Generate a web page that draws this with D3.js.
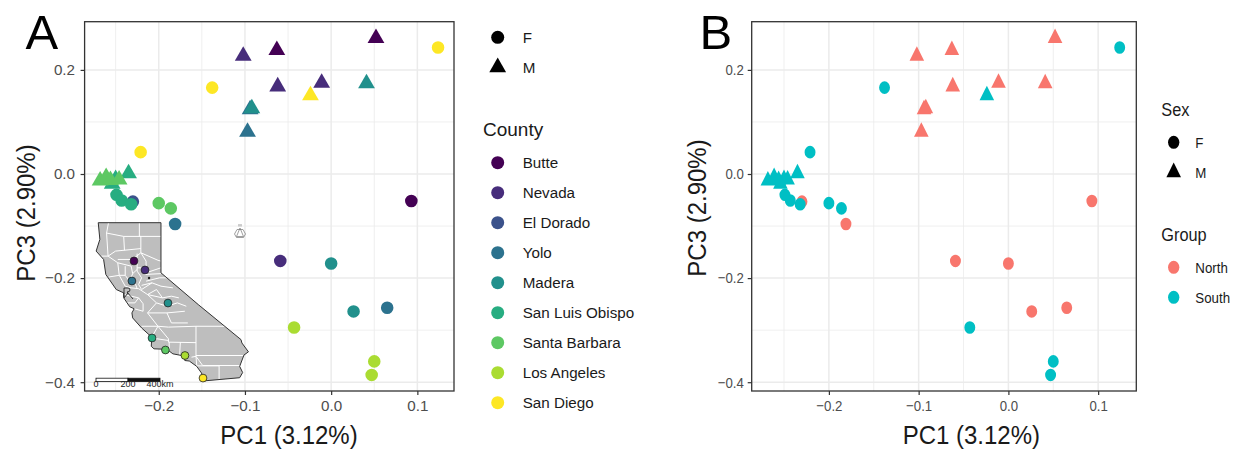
<!DOCTYPE html>
<html>
<head>
<meta charset="utf-8">
<script src="https://cdn.jsdelivr.net/npm/d3@7"></script>
<style>
    html, body { margin:0; padding:0; background:#fff; }
    svg { display:block; }
    text { font-family:"Liberation Sans", Arial, sans-serif; }
</style>
</head>
<body>
<svg id="chart" width="1239" height="449"></svg>
<script>
var counties = ['Butte', 'Nevada', 'El Dorado', 'Yolo', 'Madera', 'San Luis Obispo', 'Santa Barbara', 'Los Angeles', 'San Diego']
var countyColors = ['#440154', '#472d7b', '#3b528b', '#2c728e', '#21908c', '#27ad81', '#5dc863', '#aadc32', '#fde725']
var groups = ['North', 'South']
var groupColors = ['#f8766d', '#00bfc4']
var countyGroup = [0, 0, 0, 0, 0, 1, 1, 1, 1]
var sexes = ['F', 'M']

// one entry per sample, sorted by county
var sampleCounty = [0, 0, 0, 1, 1, 1, 1, 2, 3, 3, 3, 3, 4, 4, 4, 4, 5, 5, 5, 5, 5, 5, 6, 6, 6, 6, 6, 6, 7, 7, 7, 8, 8, 8, 8]
var sampleSex    = ['F', 'M', 'M', 'F', 'M', 'M', 'M', 'F', 'F', 'F', 'M', 'M', 'F', 'F', 'M', 'M', 'F', 'F', 'F', 'M', 'M', 'M', 'F', 'F', 'M', 'M', 'M', 'M', 'F', 'F', 'F', 'F', 'F', 'F', 'M']
var pc1 = [0.093, -0.063, 0.052, -0.059, -0.102, -0.062, -0.011, -0.230, 0.065, -0.181, -0.097, -0.094, 0.000, 0.026, 0.041, -0.092, -0.249, -0.243, -0.232, -0.250, -0.254, -0.235, -0.200, -0.186, -0.268, -0.261, -0.256, -0.246, -0.043, 0.050, 0.047, 0.124, -0.138, -0.221, -0.024]
var pc3 = [-0.052, 0.238, 0.261, -0.167, 0.227, 0.168, 0.175, -0.053, -0.257, -0.096, 0.081, 0.124, -0.172, -0.264, 0.174, 0.126, -0.040, -0.051, -0.058, -0.010, -0.019, 0.001, -0.056, -0.066, -0.013, -0.006, -0.012, -0.011, -0.295, -0.360, -0.386, 0.243, 0.166, 0.042, 0.151]

var xTicks = [-0.2, -0.1, 0, 0.1]
var xMinor = [-0.25, -0.15, -0.05, 0.05]
var yTicks = [0.2, 0, -0.2, -0.4]
var yMinor = [0.1, -0.1, -0.3]

// inset map, lon/lat
var stateOutline = [[-124.21, 42], [-120, 42], [-120, 39], [-117.5, 37.1], [-114.63, 35], [-114.57, 34.8], [-114.13, 34.27], [-114.43, 34.08], [-114.72, 33.4], [-114.52, 33.03], [-114.72, 32.72], [-117.12, 32.53], [-117.28, 33], [-117.6, 33.4], [-118.1, 33.72], [-118.4, 33.75], [-118.5, 34.03], [-119.2, 34.15], [-119.6, 34.42], [-120.47, 34.45], [-120.65, 34.6], [-120.62, 35.15], [-121.3, 35.7], [-121.9, 36.3], [-121.95, 36.6], [-121.8, 36.85], [-122.1, 36.97], [-122.5, 37.5], [-122.5, 37.8], [-123, 38], [-123.7, 38.9], [-123.85, 39.8], [-124.35, 40.3], [-124.1, 41], [-124.21, 42]]
var countyLines = [
    [[-121.45, 42], [-121.45, 41.18], [-120, 41.18]],
    [[-123.52, 42], [-123.65, 41.38], [-122.5, 41.18], [-121.35, 41.18]],
    [[-123.65, 41.38], [-123.55, 40]],
    [[-124, 40], [-123.55, 40], [-123.05, 40.3], [-121.35, 40.45]],
    [[-122.5, 41.18], [-122.45, 40.35]],
    [[-121.35, 41.18], [-121.35, 40.2], [-120.2, 39.75], [-120, 39.7]],
    [[-123.55, 40], [-122.9, 39.6], [-122.8, 38.85], [-123.5, 38.75]],
    [[-122.9, 39.8], [-121.9, 39.8], [-121.35, 40.2]],
    [[-122.9, 39.6], [-122, 39.4], [-121.9, 38.95], [-121.6, 39.2]],
    [[-122.4, 39.4], [-122.4, 38.85], [-122.8, 38.85]],
    [[-121.9, 38.95], [-122.1, 38.5], [-122.4, 38.85]],
    [[-122.1, 38.5], [-121.7, 38.3], [-121.6, 38.05]],
    [[-121.6, 40.15], [-121.6, 39.1], [-121.3, 38.7], [-121.5, 38.3], [-121.3, 38]],
    [[-121.35, 40.2], [-121, 39.7], [-121, 39], [-120, 39.3]],
    [[-121.6, 39.3], [-121, 39.3]],
    [[-121.1, 38.9], [-120, 38.95]],
    [[-121, 38.5], [-120.1, 38.7], [-119.6, 38.7]],
    [[-121.3, 38.25], [-120.6, 38.4], [-120, 38.2], [-119.2, 38.1]],
    [[-120.9, 37.7], [-120.3, 38], [-119.9, 37.5]],
    [[-121.3, 38], [-120.6, 38.4]],
    [[-122.8, 38.85], [-122.4, 38.2], [-122, 38.1], [-121.5, 38.05]],
    [[-122.5, 37.7], [-121.5, 37.5], [-121.2, 37.15], [-121.2, 36.7], [-122, 36.9]],
    [[-122.4, 37.2], [-121.75, 37.2], [-121.5, 37.5]],
    [[-121.5, 38.05], [-120.9, 37.7], [-120.3, 37.2], [-120.9, 36.6], [-120.2, 35.8], [-119.5, 35.75], [-117.65, 35.8], [-115.65, 35.8]],
    [[-120.9, 37.7], [-119.9, 37.5], [-119.3, 37.6], [-118.8, 37.5]],
    [[-120.3, 37.2], [-119.6, 37], [-118.9, 37.2], [-118.3, 37]],
    [[-119.6, 36.6], [-118.4, 36.7]],
    [[-119.3, 36], [-118.2, 36]],
    [[-120.9, 36.6], [-119.6, 36.6], [-119.3, 36]],
    [[-121.3, 35.8], [-120.2, 35.8]],
    [[-120.65, 35.1], [-120.2, 35.8]],
    [[-120.2, 35.8], [-119.5, 35.05], [-119.5, 34.85], [-117.65, 34.82]],
    [[-117.65, 35.8], [-117.65, 34], [-117.2, 33.45], [-114.6, 33.45]],
    [[-118.7, 34.85], [-118.75, 34.05]],
    [[-119.45, 34.85], [-119.45, 34.3]],
    [[-120.65, 35.1], [-119.5, 34.95]],
    [[-117.65, 34.05], [-114.45, 34.05]],
    [[-117.6, 33.43], [-116.1, 33.43], [-116.1, 32.63]],
    [[-117.95, 33.95], [-117.65, 34], [-117.6, 33.43]]
]
var siteLon = [-121.81, -121.07, -121.95, -119.53, -120.6, -119.7, -118.39, -117.18]
var siteLat = [39.71, 39.17, 38.51, 37.19, 35.1, 34.38, 34.05, 32.7]
var siteCounty = [0, 1, 3, 4, 5, 6, 7, 8]
var scaleKm = [0, 200, 400]

var svg = d3.select('#chart')
var tickFormat = d3.format('.1f')
var textColor = '#1a1a1a'

var pointShape = function(sex, size) {
    return d3.symbol().type(sex == 'F' ? d3.symbolCircle : d3.symbolTriangle).size(size)()
}

var label = function(x, y, txt, size, squeeze, fill) {
    return svg.append('text')
    .attr('transform', 'translate(' + x + ',' + y + ') scale(' + squeeze + ',1)')
    .attr('font-size', size)
    .attr('fill', fill || textColor)
    .text(txt)
}

var drawPanel = function(box, squeeze, color) {
    var x = d3.scaleLinear().domain([-0.286, 0.1425]).range([box.left, box.right])
    var y = d3.scaleLinear().domain([-0.4169, 0.2926]).range([box.bottom, box.top])
    var g = svg.append('g')
    var grid = g.append('g').attr('stroke', '#ebebeb').attr('fill', 'none')

    xMinor.forEach(function(v) {
        grid.append('line').attr('x1', x(v)).attr('x2', x(v)).attr('y1', box.top).attr('y2', box.bottom).attr('stroke-width', 0.8)
    })
    yMinor.forEach(function(v) {
        grid.append('line').attr('y1', y(v)).attr('y2', y(v)).attr('x1', box.left).attr('x2', box.right).attr('stroke-width', 0.8)
    })
    xTicks.forEach(function(v) {
        grid.append('line').attr('x1', x(v)).attr('x2', x(v)).attr('y1', box.top).attr('y2', box.bottom).attr('stroke-width', 1.5)
    })
    yTicks.forEach(function(v) {
        grid.append('line').attr('y1', y(v)).attr('y2', y(v)).attr('x1', box.left).attr('x2', box.right).attr('stroke-width', 1.5)
    })

    g.selectAll('path.point')
    .data(d3.range(pc1.length))
    .enter()
    .append('path')
    .attr('class', 'point')
    .attr('d', function(i) { return pointShape(sampleSex[i], sampleSex[i] == 'F' ? 124 : 122) })
    .attr('transform', function(i) {
        return 'translate(' + x(pc1[i]) + ',' + y(pc3[i]) + ') scale(' + squeeze + ',1)'
    })
    .attr('fill', function(i) { return color(sampleCounty[i]) })

    var xAxis = g.append('g')
    .attr('transform', 'translate(0,' + box.bottom + ')')
    .call(d3.axisBottom(x).tickValues(xTicks).tickFormat(tickFormat).tickSize(4).tickSizeOuter(0).tickPadding(5))
    var yAxis = g.append('g')
    .attr('transform', 'translate(' + box.left + ',0)')
    .call(d3.axisLeft(y).tickValues(yTicks).tickFormat(tickFormat).tickSize(4).tickSizeOuter(0).tickPadding(5.6 / (squeeze < 1 ? 1.12 : 1)))

    var styleAxis = function(axis) {
        axis.select('.domain').remove()
        axis.selectAll('line').attr('stroke', '#333').attr('stroke-width', 1.2)
        axis.selectAll('text')
        .attr('font-family', '"Liberation Sans", Arial, sans-serif')
        .attr('font-size', 15.2)
        .attr('fill', '#4d4d4d')
        .attr('transform', 'scale(' + squeeze + ',1)')
    }
    xAxis.call(styleAxis)
    yAxis.call(styleAxis)

    g.append('rect')
    .attr('x', box.left).attr('y', box.top)
    .attr('width', box.right - box.left).attr('height', box.bottom - box.top)
    .attr('fill', 'none').attr('stroke', '#333').attr('stroke-width', 1.3)
}

var drawMap = function() {
    var lonScale = d3.scaleLinear().domain([-124.4, -114.1]).range([95.4, 248.9])
    var latScale = d3.scaleLinear().domain([42, 32.5]).range([222.7, 381.4])
    var line = d3.line().x(function(d) { return lonScale(d[0]) }).y(function(d) { return latScale(d[1]) })
    var g = svg.append('g')

    g.append('path').attr('d', line(stateOutline)).attr('fill', '#bebebe').attr('stroke', 'none')
    g.selectAll('path.county')
    .data(countyLines)
    .enter()
    .append('path')
    .attr('class', 'county')
    .attr('d', line)
    .attr('fill', 'none')
    .attr('stroke', '#fff')
    .attr('stroke-width', 1)
    g.append('path').attr('d', line(stateOutline)).attr('fill', 'none').attr('stroke', '#333').attr('stroke-width', 1)

    g.append('circle').attr('cx', lonScale(-120.8)).attr('cy', latScale(38.69)).attr('r', 1.2).attr('fill', '#222')
    g.selectAll('circle.site')
    .data(siteCounty)
    .enter()
    .append('circle')
    .attr('class', 'site')
    .attr('cx', function(d, i) { return lonScale(siteLon[i]) })
    .attr('cy', function(d, i) { return latScale(siteLat[i]) })
    .attr('r', 3.9)
    .attr('fill', function(d) { return countyColors[d] })
    .attr('stroke', '#222')
    .attr('stroke-width', 0.8)

    // north arrows
    var grey = g.append('g').attr('transform', 'translate(240,233)').attr('fill', 'none').attr('stroke', '#777').attr('stroke-width', 0.7)
    grey.append('path').attr('d', 'M0,-5L-3.5,3.5L3.5,3.5ZM-5.5,1L-3,-3.5L3,-3.5L5.5,1L3.5,4.5L-3.5,4.5ZM-1,-9V-6.5M1,-9V-6.5')
    var black = g.append('g').attr('transform', 'translate(127,292)').attr('fill', 'none').attr('stroke', '#111').attr('stroke-width', 0.8)
    black.append('path').attr('d', 'M-3,5V-4H1Q3,-4 3,-2Q3,0 0,0L6,7M-3,6L1,1')

    var km = d3.scaleLinear().domain([0, 400]).range([96, 160])
    g.append('rect').attr('x', km(0)).attr('y', 378.2).attr('width', km(200) - km(0)).attr('height', 3.4).attr('fill', '#fff').attr('stroke', '#111').attr('stroke-width', 0.8)
    g.append('rect').attr('x', km(200)).attr('y', 378.2).attr('width', km(400) - km(200)).attr('height', 3.4).attr('fill', '#111').attr('stroke', '#111').attr('stroke-width', 0.8)
    g.selectAll('text.km')
    .data(scaleKm)
    .enter()
    .append('text')
    .attr('class', 'km')
    .attr('x', function(d) { return km(d) })
    .attr('y', 387.4)
    .attr('text-anchor', 'middle')
    .attr('font-size', 9)
    .attr('fill', '#222')
    .text(function(d) { return d == 400 ? '400km' : d })
}

drawPanel({ left:84.6, right:454, top:21.7, bottom:391 }, 1, function(c) { return countyColors[c] })
drawPanel({ left:751.7, right:1136.3, top:21.7, bottom:391 }, 0.87, function(c) { return groupColors[countyGroup[c]] })
drawMap()

label(25.5, 49, 'A', 49, 1, '#000')
label(699.5, 49, 'B', 49, 1, '#000')

// axis titles
var axisTitle = function(transform, txt) {
    svg.append('text').attr('transform', transform).attr('text-anchor', 'middle').attr('font-size', 24).attr('fill', textColor).text(txt)
}
axisTitle('translate(289,443.5) scale(1,1.06)', 'PC1 (3.12%)')
axisTitle('translate(971.3,443.5) scale(1,1.06)', 'PC1 (3.12%)')
axisTitle('translate(35,213) scale(1.1,1) rotate(-90)', 'PC3 (2.90%)')
axisTitle('translate(706,208) scale(1.05,1) rotate(-90)', 'PC3 (2.90%)')

var legendMark = function(x, y, sex, fill, squeeze, size) {
    svg.append('path')
    .attr('d', pointShape(sex, size))
    .attr('transform', 'translate(' + x + ',' + y + ') scale(' + squeeze + ',1)')
    .attr('fill', fill)
}
var legendText = function(x, y, txt, squeeze) {
    label(x, y + 5.2, txt, 15.2, squeeze)
}

// panel A legends
sexes.forEach(function(s, i) {
    legendMark(497.7, 37.3 + i * 30, s, '#000', 1, s == 'F' ? 133 : 122)
    legendText(522.7, 37.3 + i * 30, s, 1)
})
label(483, 136, 'County', 19, 1)
counties.forEach(function(c, i) {
    legendMark(497.7, 162.7 + i * 30, 'F', countyColors[i], 1, 133)
    legendText(522.7, 162.7 + i * 30, c, 1)
})

// panel B legends
label(1161.3, 116, 'Sex', 19, 0.86)
sexes.forEach(function(s, i) {
    legendMark(1173.7, 142.3 + i * 30, s, '#000', 0.87, s == 'F' ? 133 : 122)
    legendText(1195.3, 142.3 + i * 30, s, 0.875)
})
label(1161.3, 240.7, 'Group', 19, 0.86)
groups.forEach(function(s, i) {
    legendMark(1173.7, 267.3 + i * 30, 'F', groupColors[i], 0.87, 133)
    legendText(1195.3, 267.3 + i * 30, s, 0.875)
})
</script>
</body>
</html>
